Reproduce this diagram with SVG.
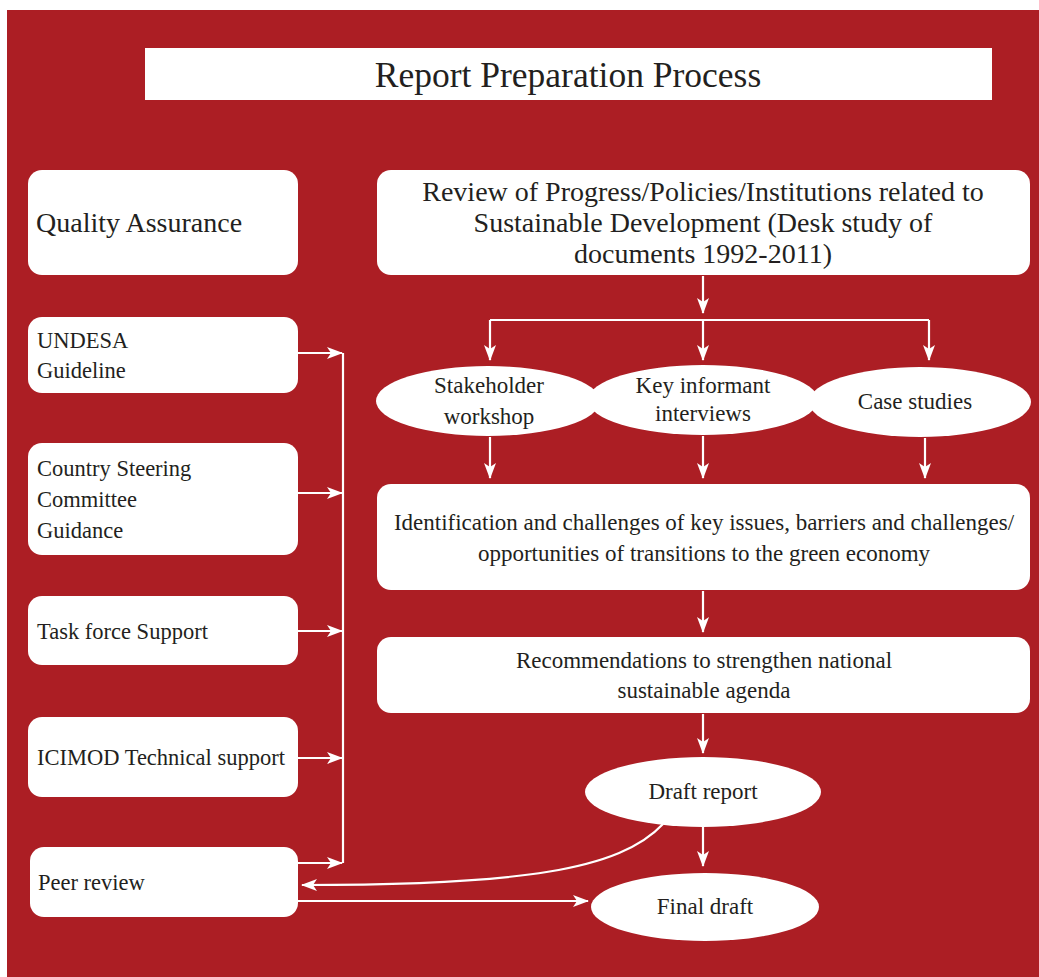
<svg xmlns="http://www.w3.org/2000/svg" width="1039" height="977" viewBox="0 0 1039 977">
<style>
.box{fill:#fff}
.t{font-family:"Liberation Serif","Times New Roman",serif;fill:#231f20}
.c{stroke:#fff;stroke-width:2.2;fill:none}
</style>
<defs>
<marker id="ah" markerUnits="userSpaceOnUse" markerWidth="16" markerHeight="12" refX="15" refY="6" orient="auto">
<path d="M0,0 L16,6 L0,12 L4,6 Z" fill="#fff"/>
</marker>
</defs>
<rect x="0" y="0" width="1039" height="977" fill="#fff"/>
<rect x="7" y="10" width="1032" height="967" fill="#ac1e24"/>
<g id="title">
<rect x="145" y="48" width="847" height="52" class="box"/>
<text x="568" y="87" class="t" font-size="35.5" text-anchor="middle">Report Preparation Process</text>
</g>
<g id="qa">
<rect x="28" y="170" width="270" height="105" rx="14" class="box"/>
<text x="36" y="232" class="t" font-size="28">Quality Assurance</text>
</g>
<g id="undesa">
<rect x="28" y="317" width="270" height="76" rx="14" class="box"/>
<text class="t" font-size="22.5"><tspan x="37" y="348">UNDESA</tspan><tspan x="37" y="378">Guideline</tspan></text>
</g>
<g id="csc">
<rect x="28" y="443" width="270" height="112" rx="14" class="box"/>
<text class="t" font-size="22.5"><tspan x="37" y="476">Country Steering</tspan><tspan x="37" y="507">Committee</tspan><tspan x="37" y="538">Guidance</tspan></text>
</g>
<g id="taskforce">
<rect x="28" y="596" width="270" height="69" rx="14" class="box"/>
<text x="37" y="639" class="t" font-size="22.5">Task force Support</text>
</g>
<g id="icimod">
<rect x="28" y="717" width="270" height="80" rx="14" class="box"/>
<text x="37" y="765" class="t" font-size="22.5">ICIMOD Technical support</text>
</g>
<g id="peer">
<rect x="30" y="847" width="268" height="70" rx="14" class="box"/>
<text x="38" y="890" class="t" font-size="22.5">Peer review</text>
</g>
<g id="review">
<rect x="377" y="170" width="653" height="105" rx="14" class="box"/>
<text class="t" font-size="28" text-anchor="middle"><tspan x="703" y="201">Review of Progress/Policies/Institutions related to</tspan><tspan x="703" y="232">Sustainable Development (Desk study of</tspan><tspan x="703" y="263">documents 1992-2011)</tspan></text>
</g>
<g id="stakeholder">
<ellipse cx="488" cy="401" rx="112" ry="35" class="box"/>
<text class="t" font-size="23" text-anchor="middle"><tspan x="489" y="393">Stakeholder</tspan><tspan x="489" y="424">workshop</tspan></text>
</g>
<g id="keyinformant">
<ellipse cx="703" cy="400" rx="115" ry="35" class="box"/>
<text class="t" font-size="23" text-anchor="middle"><tspan x="703" y="393">Key informant</tspan><tspan x="703" y="421">interviews</tspan></text>
</g>
<g id="casestudies">
<ellipse cx="920" cy="402" rx="111" ry="35" class="box"/>
<text x="915" y="409" class="t" font-size="23" text-anchor="middle">Case studies</text>
</g>
<g id="identification">
<rect x="377" y="484" width="653" height="106" rx="14" class="box"/>
<text class="t" font-size="23" text-anchor="middle"><tspan x="704" y="530">Identification and challenges of key issues, barriers and challenges/</tspan><tspan x="704" y="561">opportunities of transitions to the green economy</tspan></text>
</g>
<g id="recommendations">
<rect x="377" y="637" width="653" height="76" rx="14" class="box"/>
<text class="t" font-size="23" text-anchor="middle"><tspan x="704" y="668">Recommendations to strengthen national</tspan><tspan x="704" y="698">sustainable agenda</tspan></text>
</g>
<g id="draftreport">
<ellipse cx="703" cy="792" rx="118" ry="35" class="box"/>
<text x="703" y="799" class="t" font-size="23" text-anchor="middle">Draft report</text>
</g>
<g id="finaldraft">
<ellipse cx="705" cy="907" rx="114" ry="34" class="box"/>
<text x="705" y="914" class="t" font-size="23" text-anchor="middle">Final draft</text>
</g>
<g id="connectors">
<path class="c" d="M703,276 V313" marker-end="url(#ah)"/>
<path class="c" d="M490,320 H929"/>
<path class="c" d="M490,320 V360" marker-end="url(#ah)"/>
<path class="c" d="M703,320 V360" marker-end="url(#ah)"/>
<path class="c" d="M929,320 V360" marker-end="url(#ah)"/>
<path class="c" d="M490,437 V478" marker-end="url(#ah)"/>
<path class="c" d="M703,436 V478" marker-end="url(#ah)"/>
<path class="c" d="M925,438 V478" marker-end="url(#ah)"/>
<path class="c" d="M703,591 V632" marker-end="url(#ah)"/>
<path class="c" d="M703,714 V753" marker-end="url(#ah)"/>
<path class="c" d="M703,827 V866" marker-end="url(#ah)"/>
<path class="c" d="M343,353 V863"/>
<path class="c" d="M298,353 H342" marker-end="url(#ah)"/>
<path class="c" d="M298,493 H342" marker-end="url(#ah)"/>
<path class="c" d="M298,631 H342" marker-end="url(#ah)"/>
<path class="c" d="M298,758 H342" marker-end="url(#ah)"/>
<path class="c" d="M298,863 H342" marker-end="url(#ah)"/>
<path class="c" d="M663,824 C620,870 520,885 302,885" marker-end="url(#ah)"/>
<path class="c" d="M298,901 H588" marker-end="url(#ah)"/>
</g>
</svg>
